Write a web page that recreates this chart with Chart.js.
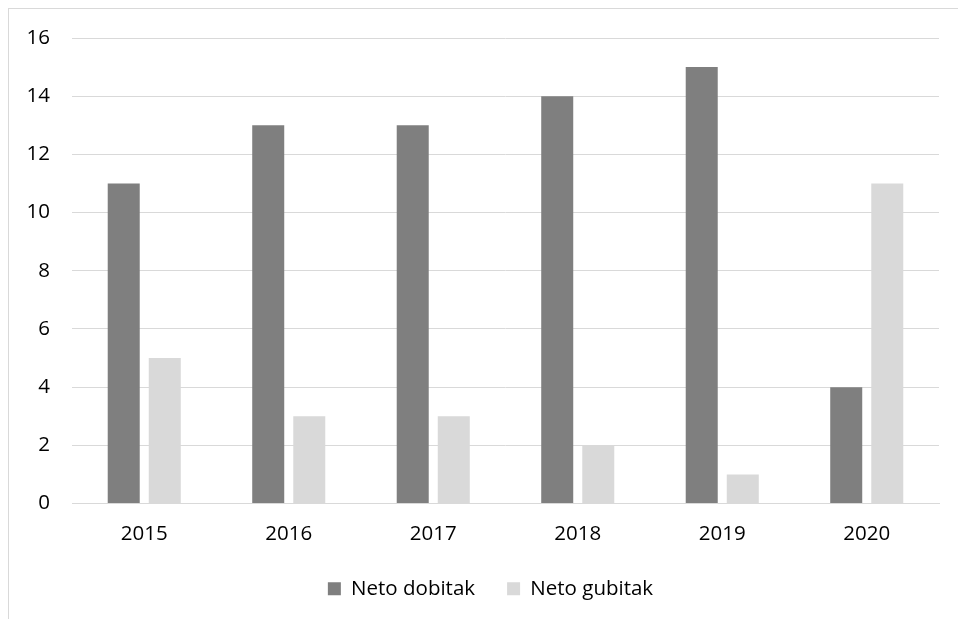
<!DOCTYPE html>
<html><head><meta charset="utf-8">
<script src="https://cdn.jsdelivr.net/npm/chart.js@4"></script>
<style>
html,body{margin:0;padding:0;background:#fff;}
#frame{position:absolute;left:8px;top:8px;width:1100px;height:800px;border:1px solid #d9d9d9;box-sizing:border-box;}
#wrap{position:absolute;left:0;top:0;width:958px;height:619px;}
</style></head>
<body>
<div id="frame"></div>
<div id="wrap"><canvas id="c" width="958" height="619"></canvas></div>
<script>
const categories = ["2015","2016","2017","2018","2019","2020"];
const netoDobitak = [11,13,13,14,15,4];
const netoGubitak = [5,3,3,2,1,11];
const seriesNames = ["Neto dobitak","Neto gubitak"];
const FONT = "'Open Sans', sans-serif";

const shiftLegend = {
  id: 'shiftLegend',
  afterLayout(chart) {
    if (chart.legend) { chart.legend.left += 21; chart.legend.right += 21; }
  }
};

new Chart(document.getElementById('c'), {
  type: 'bar',
  data: {
    labels: categories,
    datasets: [
      {label: seriesNames[0], data: netoDobitak, backgroundColor: '#7f7f7f', categoryPercentage: 0.568, barPercentage: 0.78},
      {label: seriesNames[1], data: netoGubitak, backgroundColor: '#d9d9d9', categoryPercentage: 0.568, barPercentage: 0.78}
    ]
  },
  plugins: [shiftLegend],
  options: {
    responsive: false,
    animation: false,
    layout: {padding: {top: 38, right: 19, left: 0, bottom: 10}},
    plugins: {
      legend: {
        position: 'bottom',
        labels: {boxWidth: 13, boxHeight: 13, padding: 32, color: '#000', font: {family: FONT, size: 20.5}}
      },
      tooltip: {enabled: false}
    },
    scales: {
      x: {
        grid: {display: false, drawTicks: false},
        border: {display: true, color: '#d9d9d9'},
        ticks: {color: '#000', padding: 18, font: {family: FONT, size: 20.5}},
        afterFit(s){ s.height = 43; }
      },
      y: {
        min: 0, max: 16,
        ticks: {stepSize: 2, color: '#000', padding: 22, font: {family: FONT, size: 20.5}},
        grid: {color: '#d9d9d9', drawTicks: false},
        border: {display: false},
        afterFit(s){ s.width = 72; }
      }
    }
  }
});
</script>
</body></html>
